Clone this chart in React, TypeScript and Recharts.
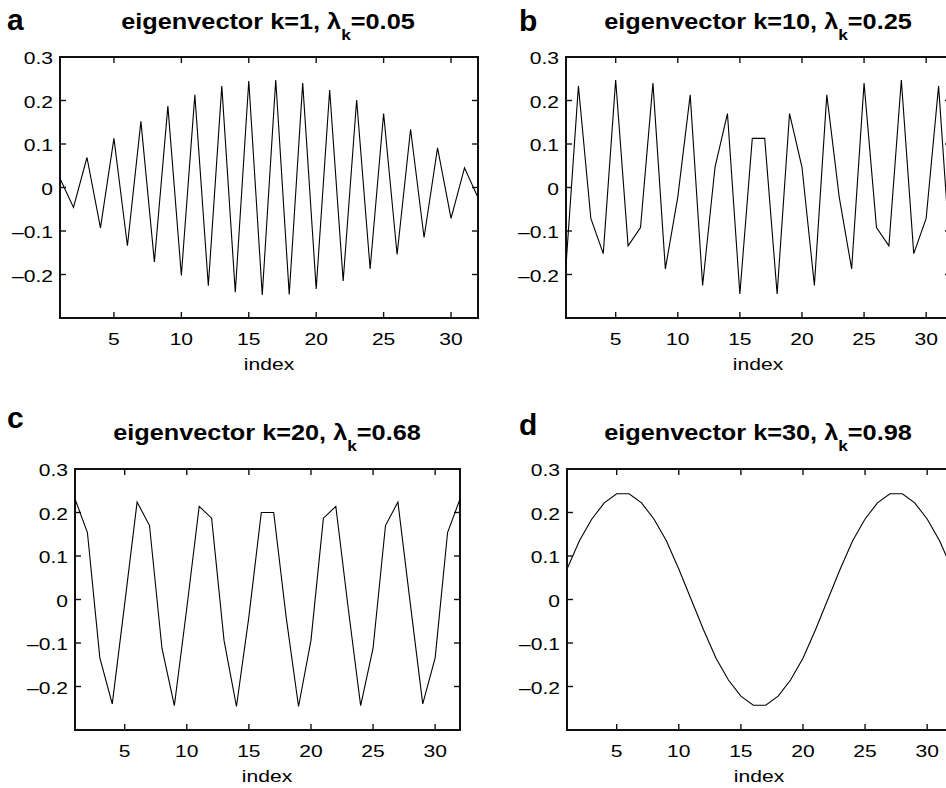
import React from 'react';
import { LineChart, Line, XAxis, YAxis, ReferenceArea } from 'recharts';

// node index along the chain
const indices = [1, 2, 3, 4, 5, 6, 7, 8, 9, 10, 11, 12, 13, 14, 15, 16, 17, 18, 19, 20, 21, 22, 23, 24, 25, 26, 27, 28, 29, 30, 31, 32];

// eigenvector components
const k1Values = [0.021, -0.046, 0.069, -0.093, 0.113, -0.134, 0.152, -0.171, 0.187, -0.202, 0.213, -0.226, 0.233, -0.241, 0.245, -0.247, 0.247, -0.246, 0.24, -0.233, 0.224, -0.215, 0.201, -0.187, 0.17, -0.154, 0.134, -0.115, 0.091, -0.071, 0.045, -0.023];
const k10Values = [-0.18, 0.233, -0.071, -0.152, 0.247, -0.134, -0.092, 0.24, -0.187, -0.022, 0.213, -0.225, 0.047, 0.17, -0.245, 0.113, 0.113, -0.245, 0.17, 0.047, -0.225, 0.213, -0.022, -0.187, 0.24, -0.092, -0.134, 0.247, -0.152, -0.071, 0.233, -0.18];
const k20Values = [0.231, 0.154, -0.134, -0.24, -0.01, 0.224, 0.17, -0.112, -0.244, -0.02, 0.214, 0.187, -0.094, -0.246, -0.04, 0.2, 0.2, -0.04, -0.246, -0.094, 0.187, 0.214, -0.02, -0.244, -0.112, 0.17, 0.224, -0.01, -0.24, -0.134, 0.154, 0.231];
const k30Values = [0.07, 0.135, 0.185, 0.222, 0.243, 0.243, 0.222, 0.185, 0.135, 0.07, 0, -0.07, -0.135, -0.185, -0.222, -0.243, -0.243, -0.222, -0.185, -0.135, -0.07, 0, 0.07, 0.135, 0.185, 0.222, 0.243, 0.243, 0.222, 0.185, 0.135, 0.07];

const xTicks = [5, 10, 15, 20, 25, 30];
const yTicks = [-0.2, -0.1, 0, 0.1, 0.2, 0.3];

const FONT = '"Liberation Sans", Arial, Helvetica, sans-serif';
const INK = '#111';
const STRETCH = 1.24;
const TICK_LEN = 6;
const LEFT_W = 60;
const BOTTOM_H = 60;
const PAD_T = 14;
const PAD_R = 3;

// MATLAB prints negatives with an en dash
const fmtY = (v: number) => (v === 0 ? '0' : v < 0 ? `\u2013${Math.abs(v).toFixed(1)}` : v.toFixed(1));

interface PanelProps {
    values: number[];
    left: number;
    top: number;
    width: number;
    height: number;
}

// one boxed plot, ticks on all four sides pointing inward
const Panel: React.FC<PanelProps> = ({ values, left, top, width, height }) => {
    const data = indices.map((index, i) => ({ index, v: values[i] }));
    const boxL = LEFT_W;
    const boxR = LEFT_W + width;
    const boxT = PAD_T;
    const boxB = PAD_T + height;

    const bottomTick = (props: any) => {
        const { x, payload } = props;
        return (
            <g>
                <line x1={x} x2={x} y1={boxB} y2={boxB - TICK_LEN} stroke={INK} strokeWidth={1.4} />
                <line x1={x} x2={x} y1={boxT} y2={boxT + TICK_LEN} stroke={INK} strokeWidth={1.4} />
                <text transform={`translate(${x},${boxB + 27}) scale(${STRETCH},1)`} textAnchor="middle" fontSize={17} fontFamily={FONT} fill="#000">
                    {payload.value}
                </text>
            </g>
        );
    };

    const leftTick = (props: any) => {
        const { y, payload } = props;
        return (
            <g>
                <line x1={boxL} x2={boxL + TICK_LEN} y1={y} y2={y} stroke={INK} strokeWidth={1.4} />
                <line x1={boxR} x2={boxR - TICK_LEN} y1={y} y2={y} stroke={INK} strokeWidth={1.4} />
                <text transform={`translate(${boxL - 7},${y + 7}) scale(${STRETCH},1)`} textAnchor="end" fontSize={17} fontFamily={FONT} fill="#000">
                    {fmtY(payload.value)}
                </text>
            </g>
        );
    };

    return (
        <div style={{ position: 'absolute', left: left - LEFT_W, top: top - PAD_T }}>
            <LineChart width={LEFT_W + width + PAD_R} height={PAD_T + height + BOTTOM_H} data={data}
                margin={{ top: PAD_T, right: PAD_R, bottom: 0, left: 0 }}>
                <XAxis dataKey="index" type="number" domain={[1, 32]} allowDataOverflow ticks={xTicks} interval={0}
                    height={BOTTOM_H} tickSize={0} tickMargin={0} tick={bottomTick} tickLine={false} axisLine={false} />
                <YAxis type="number" domain={[-0.3, 0.3]} allowDataOverflow ticks={yTicks} interval={0}
                    width={LEFT_W} tickSize={0} tickMargin={0} tick={leftTick} tickLine={false} axisLine={false} />
                <ReferenceArea x1={1} x2={32} y1={-0.3} y2={0.3} fill="none" fillOpacity={0} stroke={INK} strokeWidth={2} ifOverflow="visible" />
                <Line dataKey="v" type="linear" stroke="#000" strokeWidth={1.1}
                    dot={false} activeDot={false} isAnimationActive={false} />
            </LineChart>
        </div>
    );
};

interface HeaderProps {
    letter: string;
    letterX: number;
    letterY: number;
    k: number;
    lambda: string;
    titleX: number;
    titleY: number;
    axisX: number;
    axisY: number;
}

const Header: React.FC<HeaderProps> = ({ letter, letterX, letterY, k, lambda, titleX, titleY, axisX, axisY }) => (
    <g fontFamily={FONT} fill="#000">
        <text x={letterX} y={letterY} fontSize={30} fontWeight="bold">{letter}</text>
        <text transform={`translate(${titleX},${titleY}) scale(1.15,1)`} textAnchor="middle" fontSize={22} fontWeight="bold">
            eigenvector k={k}, λ<tspan fontSize={15} dy={11}>k</tspan><tspan dy={-11}>={lambda}</tspan>
        </text>
        <text transform={`translate(${axisX},${axisY}) scale(${STRETCH},1)`} textAnchor="middle" fontSize={17}>index</text>
    </g>
);

export default function App() {
    return (
        <div style={{ position: 'absolute', left: 0, top: 0, width: 946, height: 788, overflow: 'hidden', background: '#fff' }}>
            <Panel values={k1Values} left={60} top={57} width={418} height={261} />
            <Panel values={k10Values} left={566} top={57} width={385} height={261} />
            <Panel values={k20Values} left={75} top={469} width={385} height={261} />
            <Panel values={k30Values} left={567} top={469} width={385} height={261} />
            <svg width={946} height={788} style={{ position: 'absolute', left: 0, top: 0, pointerEvents: 'none' }}>
                <Header letter="a" letterX={7} letterY={30} k={1} lambda="0.05" titleX={268} titleY={29} axisX={269} axisY={370} />
                <Header letter="b" letterX={519} letterY={31} k={10} lambda="0.25" titleX={758} titleY={29} axisX={758} axisY={370} />
                <Header letter="c" letterX={7} letterY={428} k={20} lambda="0.68" titleX={267} titleY={440} axisX={267} axisY={782} />
                <Header letter="d" letterX={519} letterY={435} k={30} lambda="0.98" titleX={758} titleY={440} axisX={759} axisY={782} />
            </svg>
        </div>
    );
}
